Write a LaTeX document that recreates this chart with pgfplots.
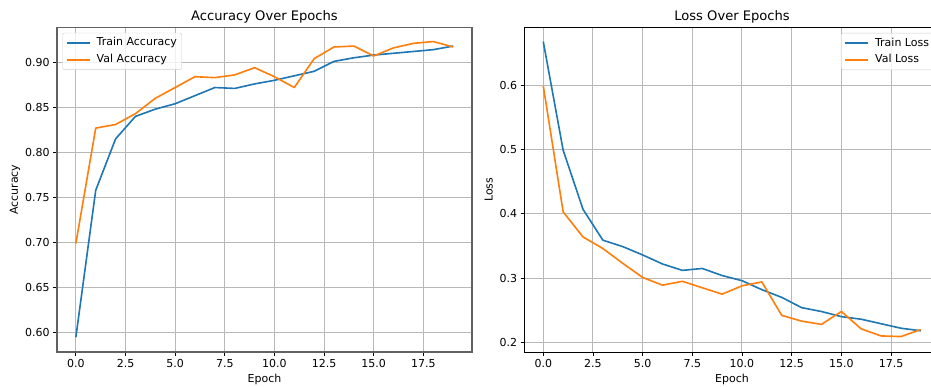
\documentclass[border=0pt]{standalone}
\usepackage{pgfplots}
\usepackage{pgfplotstable}
\pgfplotsset{compat=1.18}
\usepackage{fontspec}
\setmainfont{DejaVu Sans}

\definecolor{mplblue}{HTML}{1F77B4}
\definecolor{mplorange}{HTML}{FF7F0E}
\definecolor{mplgrid}{HTML}{B8B8B8}
\definecolor{legframe}{HTML}{CCCCCC}

% training history: accuracy per epoch
\pgfplotstableread{
epoch train val
0  0.595 0.699
1  0.758 0.827
2  0.815 0.831
3  0.840 0.843
4  0.848 0.860
5  0.854 0.872
6  0.863 0.884
7  0.872 0.883
8  0.871 0.886
9  0.876 0.894
10 0.880 0.884
11 0.885 0.872
12 0.890 0.904
13 0.901 0.917
14 0.905 0.918
15 0.908 0.907
16 0.910 0.916
17 0.912 0.921
18 0.914 0.923
19 0.918 0.917
}\acctable

% training history: loss per epoch
\pgfplotstableread{
epoch train val
0  0.668 0.599
1  0.499 0.403
2  0.407 0.364
3  0.359 0.346
4  0.349 0.323
5  0.336 0.301
6  0.322 0.289
7  0.312 0.295
8  0.315 0.285
9  0.304 0.275
10 0.296 0.288
11 0.282 0.294
12 0.270 0.242
13 0.254 0.233
14 0.248 0.228
15 0.240 0.248
16 0.236 0.221
17 0.229 0.210
18 0.222 0.209
19 0.218 0.220
}\losstable

\pgfplotsset{
  histplot/.style={
    scale only axis,
    height=324.5pt,
    anchor=south west,
    xmin=-0.95, xmax=19.95,
    xtick={0,2.5,5,7.5,10,12.5,15,17.5},
    xtick pos=bottom, ytick pos=left,
    tick align=outside,
    major tick length=3.8pt,
    tick style={black, line width=0.86pt},
    grid=major,
    major grid style={mplgrid, line width=1pt},
    /pgf/number format/assume math mode=true,
    tick label style={font=\fontsize{11pt}{13pt}\selectfont, text=black},
    xticklabel style={/pgf/number format/.cd, fixed, fixed zerofill, precision=1},
    label style={font=\fontsize{11pt}{13pt}\selectfont},
    title style={font=\fontsize{13.1pt}{15pt}\selectfont, at={(axis description cs:0.5,1)}, anchor=base, yshift=0.8pt},
    xlabel style={at={(axis description cs:0.5,0)}, anchor=base, yshift=-31pt},
    xlabel={Epoch},
    legend cell align=left,
    legend image code/.code={\draw[line width=1.8pt, ##1, line width=1.8pt] (0pt,0pt) -- (23pt,0pt);},
    legend style={
      font=\fontsize{11pt}{13pt}\selectfont,
      draw=legframe, rounded corners=2pt,
      fill=white, fill opacity=0.8, text opacity=1,
      inner sep=2.9pt, row sep=2.3pt, column sep=4.3pt,
      nodes={inner sep=2pt, text height=8pt, text depth=2.3pt},
    },
    every axis plot/.append style={line width=1.62pt, line join=round},
  },
}

\begin{document}
\begin{tikzpicture}
% left panel: accuracy
\begin{axis}[histplot,
  at={(57pt,35pt)}, width=415pt,
  axis line style={black!62, line width=1.3pt},
  ymin=0.5786, ymax=0.9386,
  ytick={0.6,0.65,0.7,0.75,0.8,0.85,0.9},
  yticklabel style={/pgf/number format/.cd, fixed, fixed zerofill, precision=2},
  title={Accuracy Over Epochs},
  ylabel={Accuracy},
  ylabel style={at={(axis description cs:-0.094,0.5)}, anchor=base},
  legend style={at={(axis description cs:0,1)}, anchor=north west, xshift=5.5pt, yshift=-5.3pt},
]
\addplot[mplblue] table[x=epoch, y=train] {\acctable};
\addlegendentry{Train Accuracy}
\addplot[mplorange] table[x=epoch, y=val] {\acctable};
\addlegendentry{Val Accuracy}
\end{axis}

% right panel: loss
\begin{axis}[histplot,
  at={(524.4pt,35pt)}, width=415.3pt,
  axis line style={black, line width=0.86pt},
  ymin=0.185, ymax=0.690,
  ytick={0.2,0.3,0.4,0.5,0.6},
  yticklabel style={/pgf/number format/.cd, fixed, fixed zerofill, precision=1},
  title={Loss Over Epochs},
  ylabel={Loss},
  ylabel style={at={(axis description cs:-0.0763,0.5)}, anchor=base},
  legend style={at={(axis description cs:1,1)}, anchor=north east, xshift=-5.5pt, yshift=-5.5pt},
]
\addplot[mplblue] table[x=epoch, y=train] {\losstable};
\addlegendentry{Train Loss}
\addplot[mplorange] table[x=epoch, y=val] {\losstable};
\addlegendentry{Val Loss}
\end{axis}

\pgfresetboundingbox
\path[use as bounding box] (0,0) rectangle (931pt,387pt);
\end{tikzpicture}
\end{document}
